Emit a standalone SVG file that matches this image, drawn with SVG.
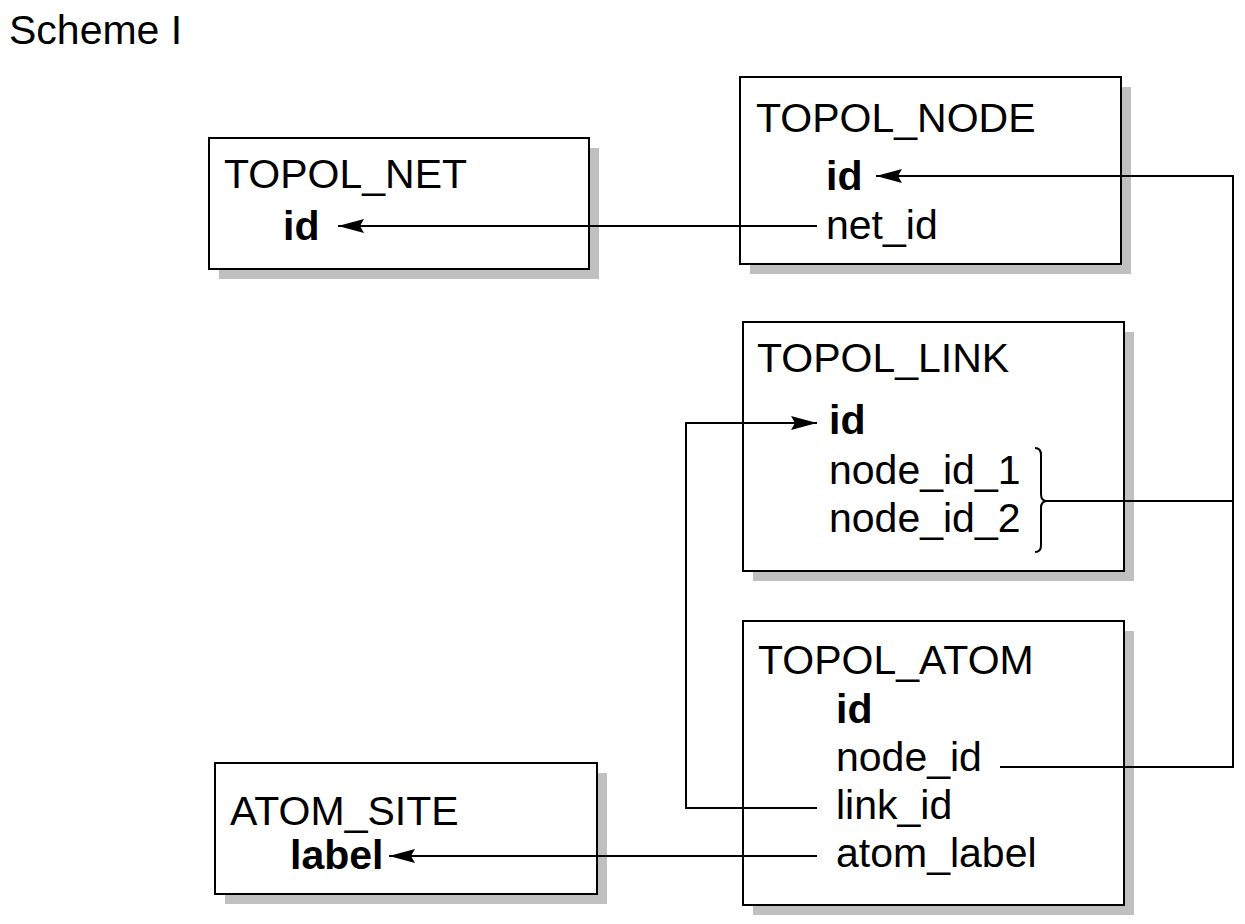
<svg xmlns="http://www.w3.org/2000/svg" width="1245" height="924" viewBox="0 0 1245 924">
<style>
text{font-family:"Liberation Sans",Arial,sans-serif;font-size:41px;fill:#000}
.b{font-weight:bold}
.box{fill:#fff;stroke:#000;stroke-width:2}
.sh{fill:#c0c0c0}
.c{fill:none;stroke:#000;stroke-width:2}
</style>
<defs>
<marker id="ah" viewBox="0 0 26 14" refX="26" refY="7" markerWidth="26" markerHeight="14" markerUnits="userSpaceOnUse" orient="auto">
<path d="M0,0 L26,7 L0,14 L4,7 Z" fill="#000"/>
</marker>
</defs>
<rect width="1245" height="924" fill="#fff"/>
<text x="9" y="44">Scheme I</text>
<g id="topol_net">
<rect class="sh" x="219" y="148" width="380" height="131"/>
<rect class="box" x="209" y="138" width="380" height="131"/>
<text x="224" y="188">TOPOL_NET</text>
<text class="b" x="283" y="240">id</text>
</g>
<g id="topol_node">
<rect class="sh" x="750" y="87" width="381" height="187"/>
<rect class="box" x="740" y="77" width="381" height="187"/>
<text x="756" y="132">TOPOL_NODE</text>
<text class="b" x="826" y="190">id</text>
<text x="826" y="239">net_id</text>
</g>
<g id="topol_link">
<rect class="sh" x="753" y="332" width="381" height="249"/>
<rect class="box" x="743" y="322" width="381" height="249"/>
<text x="757" y="372">TOPOL_LINK</text>
<text class="b" x="829" y="434">id</text>
<text x="829" y="484">node_id_1</text>
<text x="829" y="532">node_id_2</text>
<path class="c" d="M1035,448 Q1041,448 1041,455 V494 Q1041,501 1047,501 Q1041,501 1041,508 V545 Q1041,552 1035,552"/>
</g>
<g id="topol_atom">
<rect class="sh" x="753" y="631" width="381" height="284"/>
<rect class="box" x="743" y="621" width="381" height="284"/>
<text x="758" y="674">TOPOL_ATOM</text>
<text class="b" x="836" y="723">id</text>
<text x="836" y="771">node_id</text>
<text x="836" y="819">link_id</text>
<text x="836" y="867">atom_label</text>
</g>
<g id="atom_site">
<rect class="sh" x="225" y="773" width="382" height="131"/>
<rect class="box" x="215" y="763" width="382" height="131"/>
<text x="230" y="825">ATOM_SITE</text>
<text class="b" x="290" y="869">label</text>
</g>
<g id="connectors">
<path class="c" d="M817,226 H338" marker-end="url(#ah)"/>
<path class="c" d="M1000,767 H1233 V176 H876" marker-end="url(#ah)"/>
<path class="c" d="M1047,501 H1233"/>
<path class="c" d="M817,808 H686 V423 H817" marker-end="url(#ah)"/>
<path class="c" d="M817,856 H389" marker-end="url(#ah)"/>
</g>
</svg>
